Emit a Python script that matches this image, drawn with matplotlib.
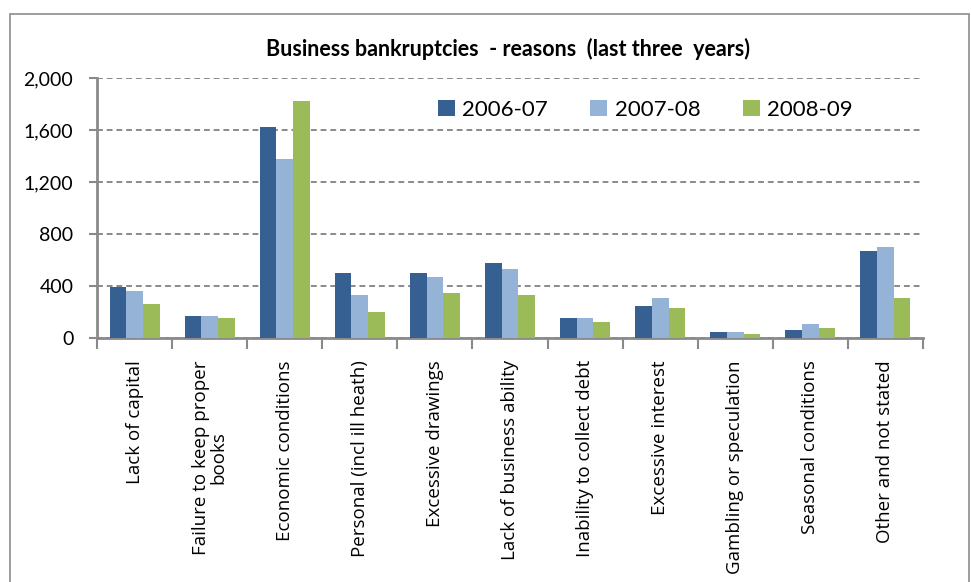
import matplotlib
matplotlib.use("Agg")
import matplotlib.pyplot as plt
import numpy as np
from matplotlib.patches import Rectangle

categories = ["Lack of capital", "Failure to keep proper\nbooks", "Economic conditions",
              "Personal (incl ill heath)", "Excessive drawings", "Lack of business ability",
              "Inability to collect debt", "Excessive interest", "Gambling or speculation",
              "Seasonal conditions", "Other and not stated"]
series_names = ["2006-07", "2007-08", "2008-09"]
v2006 = [390, 173, 1620, 500, 500, 578, 157, 248, 44, 60, 672]
v2007 = [361, 173, 1374, 327, 470, 533, 157, 311, 44, 107, 703]
v2008 = [264, 157, 1822, 201, 345, 327, 123, 233, 29, 76, 311]
colors = ["#376092", "#95B3D7", "#9BBB59"]
yticks = [0, 400, 800, 1200, 1600, 2000]

W, H = 971, 582
fig = plt.figure(figsize=(W/100, H/100), dpi=100)
fig.patches.append(Rectangle((10/W, -0.02), (969-10)/W, 1.02 - 14/H, transform=fig.transFigure,
                             fill=False, edgecolor="#8c8c8c", linewidth=1.2))
ax = fig.add_axes([97/W, 1-338/H, (923-97)/W, (338-78)/H])

x = np.arange(len(categories))
w = 0.222
for j, (vals, name, c) in enumerate(zip([v2006, v2007, v2008], series_names, colors)):
    ax.bar(x + (j-1)*w, vals, width=w, color=c, label=name, edgecolor="none", zorder=3)

ax.set_xlim(-0.5, len(categories)-0.5)
ax.set_ylim(0, 2000)
ax.set_yticks(yticks)
ax.set_yticklabels([f"{v:,}" for v in yticks], fontfamily="Lato", fontsize=14)
ax.yaxis.grid(True, linestyle=(0, (3, 2)), color="#8a8a8a", linewidth=1.4, zorder=0)
ax.tick_params(axis="y", length=6, width=1.5, color="#8a8a8a", pad=11)

ax.set_xticks(np.arange(len(categories)+1) - 0.5)
ax.set_xticklabels([])
ax.tick_params(axis="x", which="major", length=8, width=1.5, color="#8a8a8a")
ax.set_xticks(x, minor=True)
ax.set_xticklabels(categories, minor=True, rotation=90, fontfamily="Open Sans", fontsize=13.5,
                   ha="center", va="top", multialignment="center", linespacing=1.0)
ax.tick_params(axis="x", which="minor", length=0, pad=16)

for s in ["top", "right"]:
    ax.spines[s].set_visible(False)
for s in ["left", "bottom"]:
    ax.spines[s].set_color("#8a8a8a")
    ax.spines[s].set_linewidth(2)

fig.text(508/W, 1-49/H, "Business bankruptcies  - reasons  (last three  years)",
         ha="center", va="center", fontfamily="Lato", fontweight="bold", fontsize=15.5)

leg = ax.legend(loc="center left", bbox_to_anchor=(418/W, 1-110/H), bbox_transform=fig.transFigure,
                ncol=3, frameon=False, prop={"family": "Lato", "size": 16},
                handlelength=0.75, handleheight=0.75, handletextpad=0.35, columnspacing=1.9)

fig.savefig("out.png", dpi=100)
